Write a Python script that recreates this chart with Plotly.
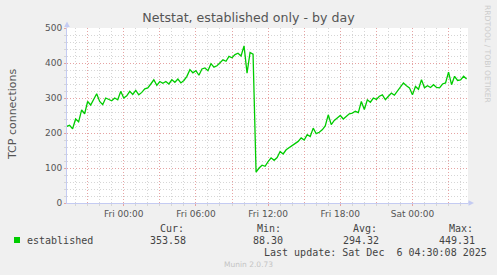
import plotly.graph_objects as go
import pandas as pd

# ---- data ----
start_time = "2025-12-04 19:15"
step = "15min"
values = [
    219, 222, 212, 240, 232, 266, 255, 290, 280, 295,
    312, 290, 281, 300, 296, 292, 300, 295, 319, 300,
    306, 319, 310, 322, 309, 316, 326, 329, 340, 352,
    336, 347, 342, 347, 340, 352, 345, 354, 343, 350,
    362, 381, 372, 378, 365, 383, 386, 378, 398, 388,
    392, 400, 409, 405, 419, 415, 424, 428, 420, 449,
    371, 430, 425, 88, 100, 108, 105, 118, 129, 122,
    130, 147, 140, 152, 158, 165, 172, 176, 186, 180,
    195, 190, 214, 198, 202, 209, 220, 252, 224, 236,
    243, 250, 240, 248, 255, 257, 262, 258, 290, 267,
    295, 288, 300, 296, 305, 309, 295, 305, 314, 308,
    319, 330, 343, 335, 329, 309, 333, 325, 352, 329,
    335, 330, 338, 330, 329, 340, 343, 374, 338, 362,
    350, 352, 362, 354,
]
x_range = ["2025-12-04 19:17", "2025-12-06 04:37"]
tick_vals = ["2025-12-04 21:00", "2025-12-05 00:00", "2025-12-05 03:00",
             "2025-12-05 06:00", "2025-12-05 09:00", "2025-12-05 12:00",
             "2025-12-05 15:00", "2025-12-05 18:00", "2025-12-05 21:00",
             "2025-12-06 00:00", "2025-12-06 03:00"]
tick_text = ["", "Fri 00:00", "", "Fri 06:00", "", "Fri 12:00", "",
             "Fri 18:00", "", "Sat 00:00", ""]
minor_x_vals = pd.date_range("2025-12-04 20:00", "2025-12-06 04:00", freq="1h")
series_name = "established"
stat_labels = ["Cur:", "Min:", "Avg:", "Max:"]
stat_values = ["353.58", "88.30", "294.32", "449.31"]
title = "Netstat, established only - by day"
y_title = "TCP connections"
last_update = "Last update: Sat Dec  6 04:30:08 2025"
footer = "Munin 2.0.73"
side_text = "RRDTOOL / TOBI OETIKER"

times = pd.date_range(start_time, periods=len(values), freq=step)

W, H = 497, 275
L, R, T, B = 67, 29, 28, 72
PW, PH = W - L - R, H - T - B


def px(xp):
    return (xp - L) / PW


def py(yp):
    return (H - B - yp) / PH


GREEN = "#00CC00"
MAJ = "#E6A3A3"
MIN = "#D6D6D6"
AXIS = "#C4CBF2"
TXT = "#555555"

fig = go.Figure()
fig.add_trace(go.Scatter(x=times, y=values, mode="lines",
                         line=dict(color=GREEN, width=1.3),
                         showlegend=False, hoverinfo="skip"))

fig.update_layout(
    width=W, height=H,
    margin=dict(l=L, r=R, t=T, b=B),
    paper_bgcolor="#F0F0F0", plot_bgcolor="#FFFFFF",
    showlegend=False,
    title=dict(text=title, x=0.5, xref="container", xanchor="center",
               y=1 - 18 / H, yref="container", yanchor="middle",
               font=dict(family="DejaVu Sans", size=12.6, color=TXT)),
    font=dict(family="DejaVu Sans", size=9, color=TXT),
)

fig.update_xaxes(
    type="date", range=x_range,
    tickmode="array", tickvals=tick_vals, ticktext=tick_text,
    showgrid=True, gridcolor=MAJ, griddash="1px,2px", gridwidth=1,
    showline=True, linecolor=AXIS, linewidth=1,
    ticks="outside", ticklen=2, tickcolor=MAJ,
    tickfont=dict(family="DejaVu Sans", size=9, color=TXT),
    zeroline=False,
    minor=dict(tickmode="array", tickvals=list(minor_x_vals), showgrid=True,
               gridcolor=MIN, griddash="1px,2px", gridwidth=1,
               ticks="outside", ticklen=2, tickcolor=MIN),
)
fig.update_yaxes(
    range=[0, 500], dtick=100, tick0=0,
    showgrid=True, gridcolor=MAJ, griddash="1px,2px", gridwidth=1,
    showline=True, linecolor=AXIS, linewidth=1,
    ticks="outside", ticklen=2, tickcolor=MAJ,
    tickfont=dict(family="DejaVu Sans", size=9, color=TXT),
    zeroline=False,
    minor=dict(dtick=20, showgrid=True, gridcolor=MIN, griddash="1px,2px",
               gridwidth=1, ticks="outside", ticklen=2, tickcolor=MIN),
)

shapes = []
shapes.append(dict(type="line", xref="paper", yref="paper",
                   x0=px(L), x1=px(L), y0=1, y1=py(25),
                   line=dict(color=AXIS, width=1)))
shapes.append(dict(type="path", xref="paper", yref="paper",
                   path=f"M {px(64.2)} {py(27)} L {px(69.8)} {py(27)} L {px(67)} {py(21.5)} Z",
                   fillcolor=AXIS, line=dict(color=AXIS, width=0)))
shapes.append(dict(type="line", xref="paper", yref="paper",
                   x0=1, x1=px(470), y0=0, y1=0,
                   line=dict(color=AXIS, width=1)))
shapes.append(dict(type="path", xref="paper", yref="paper",
                   path=f"M {px(468.5)} {py(200.2)} L {px(468.5)} {py(205.8)} L {px(474)} {py(203)} Z",
                   fillcolor=AXIS, line=dict(color=AXIS, width=0)))
shapes.append(dict(type="rect", xref="paper", yref="paper",
                   x0=px(14), x1=px(20), y0=py(243), y1=py(237),
                   fillcolor=GREEN, line=dict(width=0)))
fig.update_layout(shapes=shapes)

ann = []
MONO = "DejaVu Sans Mono"
ann.append(dict(text=y_title, x=px(12), y=py(115), xref="paper", yref="paper",
                textangle=-90, showarrow=False, xanchor="center", yanchor="middle",
                font=dict(family="DejaVu Sans", size=11, color=TXT)))
ann.append(dict(text=series_name, x=px(25), y=py(240.5), xref="paper", yref="paper",
                showarrow=False, xanchor="left", yanchor="middle",
                font=dict(family=MONO, size=10, color="#444444")))
label_left = [158, 255, 351, 447]
value_right = [188, 285, 381, 477]
for lab, ll, val, vr in zip(stat_labels, label_left, stat_values, value_right):
    ann.append(dict(text=lab, x=px(ll), y=py(228.5), xref="paper", yref="paper",
                    showarrow=False, xanchor="left", yanchor="middle",
                    font=dict(family=MONO, size=10, color="#444444")))
    ann.append(dict(text=val, x=px(vr), y=py(240.5), xref="paper", yref="paper",
                    showarrow=False, xanchor="right", yanchor="middle",
                    font=dict(family=MONO, size=10, color="#444444")))
ann.append(dict(text=last_update.replace("  ", "&nbsp; "), x=px(262), y=py(252),
                xref="paper", yref="paper", showarrow=False,
                xanchor="left", yanchor="middle",
                font=dict(family=MONO, size=10, color="#444444")))
ann.append(dict(text=footer, x=px(248), y=py(264.5), xref="paper", yref="paper",
                showarrow=False, xanchor="center", yanchor="middle",
                font=dict(family="DejaVu Sans", size=7.5, color="#C4C4C4")))
ann.append(dict(text=side_text, x=px(488), y=py(54), xref="paper", yref="paper",
                textangle=90, showarrow=False, xanchor="center", yanchor="middle",
                font=dict(family="DejaVu Sans", size=7.6, color="#CCCCCC")))
fig.update_layout(annotations=ann)

fig.write_html("out.html")
